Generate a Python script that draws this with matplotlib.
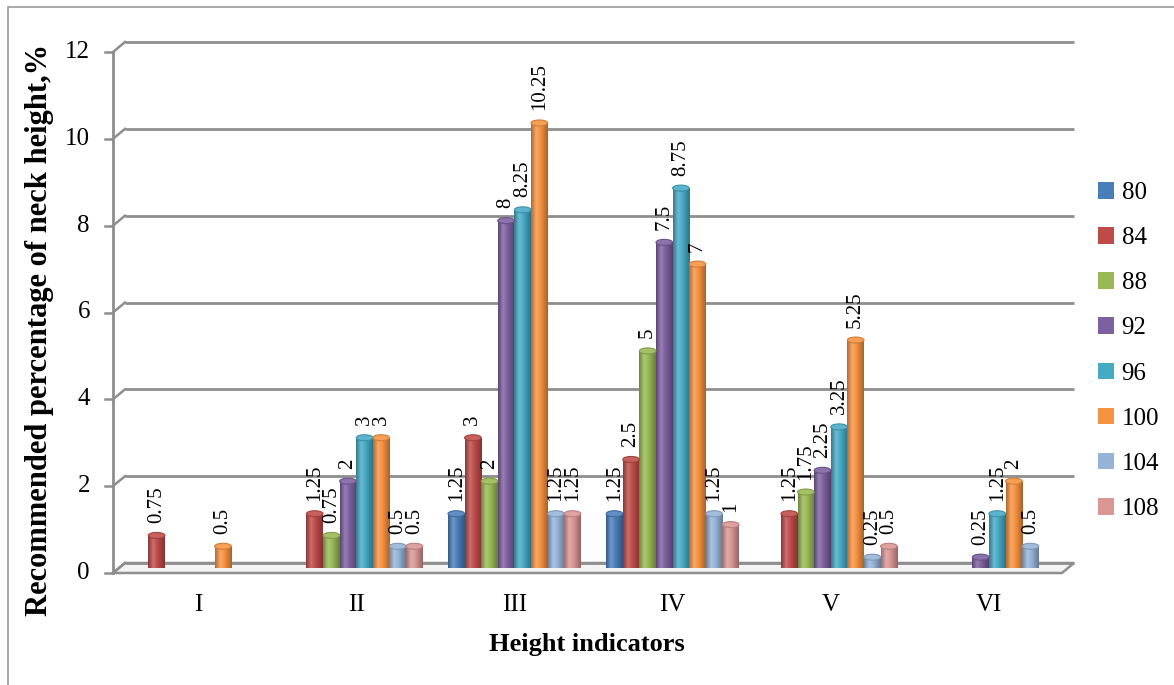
import numpy as np
import matplotlib
matplotlib.use("Agg")
import matplotlib.pyplot as plt
from matplotlib.patches import Ellipse, Rectangle, Polygon
from matplotlib.colors import LinearSegmentedColormap, to_rgb
import matplotlib.transforms as mtransforms

# ---------------- data ----------------
categories = ["I", "II", "III", "IV", "V", "VI"]
series_names = ["80", "84", "88", "92", "96", "100", "104", "108"]
s80 = [0, 0, 1.25, 1.25, 0, 0]
s84 = [0.75, 1.25, 3, 2.5, 1.25, 0]
s88 = [0, 0.75, 2, 5, 1.75, 0]
s92 = [0, 2, 8, 7.5, 2.25, 0.25]
s96 = [0, 3, 8.25, 8.75, 3.25, 1.25]
s100 = [0.5, 3, 10.25, 7, 5.25, 2]
s104 = [0, 0.5, 1.25, 1.25, 0.25, 0.5]
s108 = [0, 0.5, 1.25, 1, 0.5, 0]
series_values = [s80, s84, s88, s92, s96, s100, s104, s108]
y_ticks = [0, 2, 4, 6, 8, 10, 12]

colors = ["#4A7EBB", "#BE4B48", "#98B954", "#7D60A0", "#46AAC5",
          "#F69240", "#95B3D7", "#D99694"]

plt.rcParams['font.family'] = ['Liberation Serif', 'DejaVu Serif']

W, H, DPI = 1174, 685, 100
fig = plt.figure(figsize=(W / DPI, H / DPI), dpi=DPI)
fig.patch.set_facecolor("white")

# outer frame
fig.patches.append(Rectangle((8 / W, -0.1), 1.2, 1 - 7 / H + 0.1,
                             transform=fig.transFigure, fill=False,
                             edgecolor="#9a9a9a", lw=1.2))

# bar plane axes (mid depth)
left_px, right_px, y0_px, y12_px = 119, 1068, 568, 47
ax = fig.add_axes([left_px / W, (H - y0_px) / H,
                   (right_px - left_px) / W, (y0_px - y12_px) / H])
ax.set_xlim(-0.5, 5.5)
ax.set_ylim(0, 12)
ax.axis("off")

px_per_unit = (y0_px - y12_px) / 12.0
ax_w_px = right_px - left_px
DX = 6.0 / ax_w_px          # depth offset in axes fraction
DY = 5.0 / px_per_unit      # depth offset in data units
yt = ax.get_yaxis_transform()
gcol = "#8e8e8e"

# floor slab
floor = Polygon([(-DX, -DY), (1 - DX, -DY), (1 + DX, DY), (DX, DY)],
                closed=True, transform=yt, facecolor="#f4f4f4",
                edgecolor=gcol, lw=1.8, clip_on=False, zorder=0.5)
ax.add_patch(floor)

# back-wall gridlines + left diagonals + front axis ticks
for v in y_ticks:
    ax.plot([DX, 1 + DX], [v + DY, v + DY], transform=yt, color=gcol,
            lw=2.0, clip_on=False, zorder=0.6, solid_capstyle="butt")
    ax.plot([-DX, DX], [v - DY, v + DY], transform=yt, color=gcol,
            lw=1.8, clip_on=False, zorder=0.6)
    ax.plot([-DX - 8.0 / ax_w_px, -DX], [v - DY, v - DY], transform=yt,
            color=gcol, lw=1.8, clip_on=False, zorder=0.6)
    ax.text(-DX - 23.0 / ax_w_px, v - DY, str(v), transform=yt,
            ha="right", va="center", fontsize=18, color="black")
ax.plot([-DX, -DX], [-DY, 12 - DY], transform=yt, color=gcol, lw=2.0,
        clip_on=False, zorder=0.6)

# bars (cylinders)
n = len(series_names)
slot = 0.105
bw = 0.105
x = np.arange(len(categories))
cap_h = 6.0 / px_per_unit


def shade(c, f):
    r, g, b = to_rgb(c)
    if f >= 1:
        t = f - 1
        return (r + (1 - r) * t, g + (1 - g) * t, b + (1 - b) * t)
    return (r * f, g * f, b * f)


grad = np.linspace(0, 1, 64).reshape(1, -1)
for i, (name, vals) in enumerate(zip(series_names, series_values)):
    c = colors[i]
    cmap = LinearSegmentedColormap.from_list(
        "c%d" % i, [(0, shade(c, 0.72)), (0.3, shade(c, 1.2)),
                    (0.55, shade(c, 1.0)), (1, shade(c, 0.68))])
    xs = x + (i - (n - 1) / 2) * slot
    bars = ax.bar(xs, vals, width=bw, color=c, label=name, zorder=2,
                  linewidth=0)
    for bx, v, rect in zip(xs, vals, bars):
        if v <= 0:
            rect.set_visible(False)
            continue
        im = ax.imshow(grad, cmap=cmap, aspect="auto",
                       extent=(bx - bw / 2, bx + bw / 2, 0, v), zorder=2.1,
                       interpolation="bilinear")
        im.set_clip_path(rect)
        ax.add_patch(Ellipse((bx, 0), bw, cap_h, facecolor=shade(c, 0.8),
                             edgecolor="none", zorder=1.9))
        ax.add_patch(Ellipse((bx, v), bw, cap_h, facecolor=shade(c, 1.12),
                             edgecolor=shade(c, 0.85), lw=0.8, zorder=2.3))
        ax.annotate(f"{v:g}", (bx, v), xytext=(0, 9.0),
                    textcoords="offset points", rotation=90, ha="center",
                    va="bottom", fontsize=15, zorder=3)

ax.set_xlim(-0.5, 5.5)
ax.set_ylim(0, 12)

# category labels
for xi, lab in zip(x, categories):
    ax.text(xi, 0, lab, transform=ax.transData + mtransforms.ScaledTranslation(
        0, -37 / DPI, fig.dpi_scale_trans), ha="center", va="center",
        fontsize=18)

fig.text(587 / W, 1 - 645 / H, "Height indicators", ha="center",
         va="center", fontsize=19, fontweight="bold")
fig.text(40 / W, 1 - 330 / H, "Recommended percentage of neck height,%",
         ha="center", va="center", rotation=90, fontsize=22,
         fontweight="bold")

# legend
handles, labels = ax.get_legend_handles_labels()
leg = fig.legend(handles, labels, loc="upper left",
                 bbox_to_anchor=(1088 / W, 1 - 172 / H), frameon=False,
                 fontsize=18, handlelength=0.65, handleheight=0.65,
                 handletextpad=0.3, labelspacing=0.92, borderaxespad=0)
for h in leg.legend_handles:
    h.set_visible(True)

fig.savefig("out.png", dpi=DPI, facecolor="white")
